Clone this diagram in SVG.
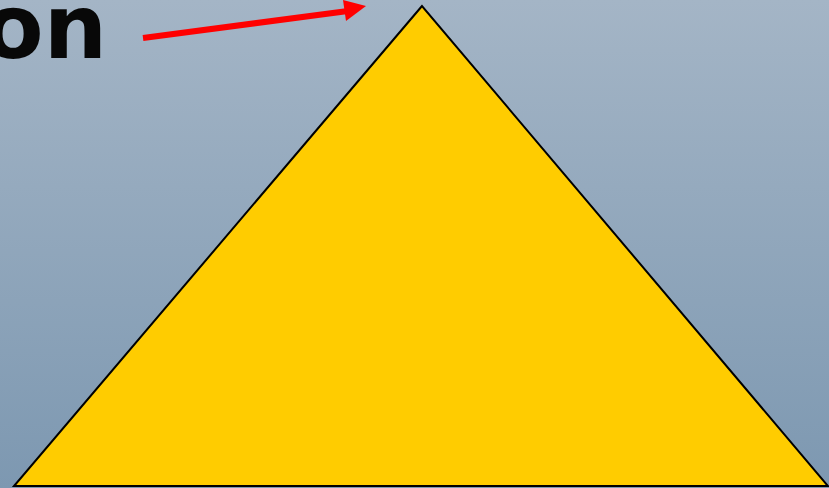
<svg xmlns="http://www.w3.org/2000/svg" width="829" height="488" viewBox="0 0 829 488">
<defs>
<linearGradient id="bg" x1="0" y1="0" x2="0" y2="1">
<stop offset="0" stop-color="#A4B5C6"/>
<stop offset="1" stop-color="#7D98B1"/>
</linearGradient>
</defs>
<style>
.lbl{font-family:"DejaVu Sans",Verdana,sans-serif;font-weight:bold;font-size:89px;fill:#080808}
</style>
<rect width="829" height="488" fill="url(#bg)"/>
<g id="triangle">
<polygon points="422,6 14,486 828,486" fill="#FFCC00" stroke="#000" stroke-width="2" stroke-linejoin="miter"/>
</g>
<g id="label">
<text class="lbl" x="107" y="58" text-anchor="end">on</text>
</g>
<g id="connectors">
<line x1="143" y1="38" x2="348" y2="11" stroke="#FF0000" stroke-width="6"/>
<polygon points="366,6 343,0 346,21" fill="#FF0000"/>
</g>
</svg>
